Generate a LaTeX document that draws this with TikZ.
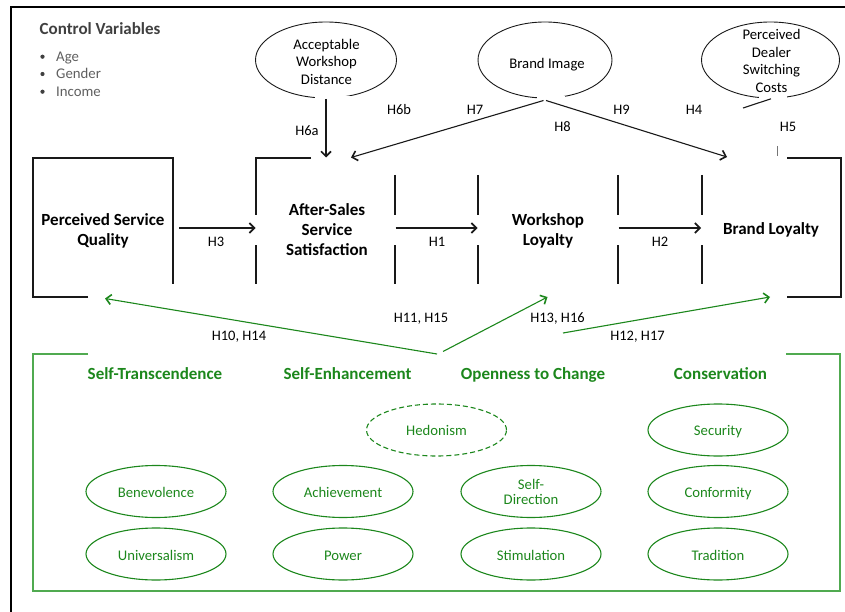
\documentclass[tikz,border=0pt]{standalone}
\usepackage{fontspec}
\setmainfont{Carlito}
\usetikzlibrary{arrows.meta,shapes.geometric}

\definecolor{valgreen}{RGB}{28,135,28}
\definecolor{framegreen}{RGB}{80,170,80}
\definecolor{ctrlhead}{RGB}{64,64,64}
\definecolor{ctrlitem}{RGB}{95,95,95}
\definecolor{inkline}{RGB}{25,25,25}

% multi-line nodes below are placed by the baseline of their last line
\tikzset{
  construct/.style={font=\fontsize{17}{20}\selectfont\bfseries, align=center, inner sep=0pt, anchor=base},
  hyp/.style={font=\fontsize{14.5}{17}\selectfont, inner sep=0pt, anchor=base},
  topvar/.style={draw=inkline, ellipse, line width=0.9pt, inner sep=0pt},
  topvartext/.style={font=\fontsize{14.7}{17.7}\selectfont, align=center, inner sep=0pt, anchor=base},
  valhead/.style={font=\fontsize{17}{20}\selectfont\bfseries, text=valgreen, inner sep=0pt, anchor=base},
  valoval/.style={draw=valgreen, ellipse, line width=1.1pt, minimum width=140pt, minimum height=52pt, inner sep=0pt},
  valtext/.style={font=\fontsize{14.7}{14.7}\selectfont, text=valgreen, align=center, inner sep=0pt, anchor=base},
  boxline/.style={line width=1.1pt, draw=inkline},
  link/.style={line width=1.1pt, draw=inkline, -{Straight Barb[length=5pt,width=10pt,line width=1.6pt]}},
  glink/.style={link, draw=valgreen},
  gframe/.style={line width=1.8pt, draw=framegreen},
  cover/.style={fill=white, draw=none},
  ctrlbullet/.style={circle, fill=ctrlhead, inner sep=0pt, minimum size=4.2pt},
}

\begin{document}
\begin{tikzpicture}[x=1pt,y=-1pt]
\useasboundingbox (0,0) rectangle (845,612);

% outer frame (only its top and left sides fall inside the page)
\draw[line width=2pt, black] (11,612) -- (11,7) -- (845,7);

% control variables
\node[font=\fontsize{17}{20}\selectfont\bfseries, text=ctrlhead, inner sep=0pt, anchor=base west] (cv) at (39.5,34.3) {Control Variables};
\foreach \y/\t/\n in {61.7/Age/age, 79/Gender/gender, 96.7/Income/income}{
  \node[ctrlbullet] (bul-\n) at (42.5,\y-5) {};
  \node[font=\fontsize{14.8}{17}\selectfont, text=ctrlitem, inner sep=0pt, anchor=base west] (cv-\n) at (56,\y) {\t};
}

% moderating variables on top
\node[topvar, minimum width=141pt, minimum height=76pt] (awd) at (326,60) {};
\node[topvar, minimum width=134pt, minimum height=76pt] (bi) at (545,60) {};
\node[topvar, minimum width=138pt, minimum height=76pt] (pdsc) at (770.5,60) {};
\fill[cover] (315,96.3) rectangle (352,101);
\fill[cover] (537,96.3) rectangle (565,101);
\fill[cover] (759,94) rectangle (787,101);
\node[topvartext] (awd-t) at (326.5,84.5) {Acceptable\\Workshop\\Distance};
\node[topvartext] (bi-t) at (547,68.3) {Brand Image};
\node[topvartext] (pdsc-t) at (771.5,92.5) {Perceived\\Dealer\\Switching\\Costs};

% construct boxes, drawn as the segments left visible between labels
\draw[boxline] (88,297) -- (33,297) -- (33,158) -- (173,158) -- (173,284);
\draw[boxline] (311,158) -- (256,158) -- (256,215);
\draw[boxline] (256,245) -- (256,284);
\draw[boxline] (395,175) -- (395,215) (395,245) -- (395,284);
\draw[boxline] (478,175) -- (478,215) (478,245) -- (478,284);
\draw[boxline] (618,175) -- (618,215) (618,245) -- (618,284);
\draw[boxline] (702,175) -- (702,215) (702,245) -- (702,284);
\draw[boxline] (787,158) -- (841,158) -- (841,297) -- (787,297);

% construct names
\node[construct] (psq) at (103,245) {Perceived Service\\Quality};
\node[construct] (ass) at (327,255) {After-Sales\\Service\\Satisfaction};
\node[construct] (wl) at (548,245.5) {Workshop\\Loyalty};
\node[construct] (bl) at (771,235) {Brand Loyalty};

% structural paths
\coordinate (psq-out) at (179,228);  \coordinate (ass-in) at (255.5,228);
\coordinate (ass-out) at (395.5,228); \coordinate (wl-in) at (477.5,228);
\coordinate (wl-out) at (618.5,228);  \coordinate (bl-in) at (701,228);
\draw[link] (psq-out) -- (ass-in);
\draw[link] (ass-out) -- (wl-in);
\draw[link] (wl-out) -- (bl-in);

% moderator paths
\coordinate (awd-out) at (326,99);   \coordinate (ass-top1) at (326,157.5);
\coordinate (bi-out1) at (543.5,100.5); \coordinate (ass-top2) at (351,157.5);
\coordinate (bi-out2) at (546,100.5); \coordinate (bl-top) at (727,157);
\draw[link] (awd-out) -- (ass-top1);
\draw[link] (bi-out1) -- (ass-top2);
\draw[link] (bi-out2) -- (bl-top);
\coordinate (pdsc-a) at (771,98.8); \coordinate (pdsc-b) at (743,108);
\draw[boxline] (pdsc-a) -- (pdsc-b);
\coordinate (pdsc-c) at (777,146); \coordinate (pdsc-d) at (777,156);
\draw[line width=0.8pt, draw=inkline!60] (pdsc-c) -- (pdsc-d);

% hypothesis labels
\node[hyp] (h3) at (216,247) {H3};
\node[hyp] (h1) at (437,247) {H1};
\node[hyp] (h2) at (660,247) {H2};
\node[hyp] (h6a) at (307,136) {H6a};
\node[hyp] (h6b) at (399,114.5) {H6b};
\node[hyp] (h7) at (475,114.5) {H7};
\node[hyp] (h8) at (562.5,132) {H8};
\node[hyp] (h9) at (621.5,114.5) {H9};
\node[hyp] (h4) at (694,114.5) {H4};
\node[hyp] (h5) at (788,132) {H5};
\node[hyp] (h1014) at (239,340.5) {H10, H14};
\node[hyp] (h1115) at (421,322) {H11, H15};
\node[hyp] (h1316) at (557.5,322) {H13, H16};
\node[hyp] (h1217) at (637.5,340.5) {H12, H17};

% personal values block
\draw[gframe] (88,354) -- (33,354) -- (33,591) -- (840,591) -- (840,354) -- (786,354);

\coordinate (val-a) at (437,354);  \coordinate (psq-bot) at (105,298.5);
\coordinate (val-b) at (443,351.5);  \coordinate (wl-bot) at (547.5,297);
\coordinate (val-c) at (563,333);  \coordinate (bl-bot) at (770,297);
\draw[glink] (val-a) -- (psq-bot);
\draw[glink] (val-b) -- (wl-bot);
\draw[glink] (val-c) -- (bl-bot);

\node[valhead] (st) at (155,379.3) {Self-Transcendence};
\node[valhead] (se) at (347.5,379.3) {Self-Enhancement};
\node[valhead] (oc) at (533,379.3) {Openness to Change};
\node[valhead] (co) at (720.5,379.3) {Conservation};

\node[valoval, dashed, dash pattern=on 5pt off 3pt] (hed) at (436.5,430) {};
\node[valoval] (sec) at (718,430) {};
\node[valoval] (ben) at (156,491.5) {};
\node[valoval] (ach) at (343,491.5) {};
\node[valoval] (sdi) at (531,491.5) {};
\node[valoval] (con) at (718,491.5) {};
\node[valoval] (uni) at (156,554) {};
\node[valoval] (pow) at (343,554) {};
\node[valoval] (sti) at (531,554) {};
\node[valoval] (tra) at (718,554) {};

\node[valtext] at (436.5,435.5) {Hedonism};
\node[valtext] at (718,435.5) {Security};
\node[valtext] at (156,497.5) {Benevolence};
\node[valtext] at (343,497.5) {Achievement};
\node[valtext] at (531,504) {Self-\\Direction};
\node[valtext] at (718,497.5) {Conformity};
\node[valtext] at (156,560) {Universalism};
\node[valtext] at (343,560) {Power};
\node[valtext] at (531,560) {Stimulation};
\node[valtext] at (718,560) {Tradition};
\end{tikzpicture}
\end{document}
